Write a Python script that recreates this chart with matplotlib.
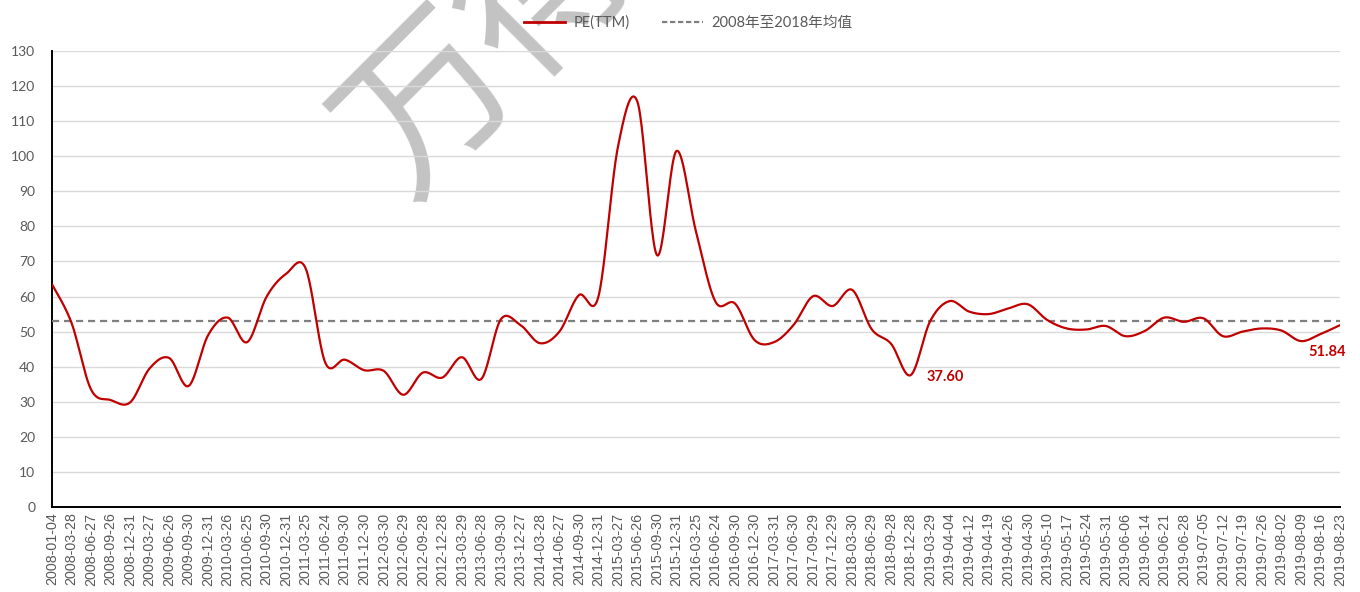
import numpy as np
import matplotlib
matplotlib.use("Agg")
import matplotlib.pyplot as plt
from matplotlib.lines import Line2D

plt.rcParams['font.family'] = ['Lato', 'Noto Sans CJK SC', 'DejaVu Sans']

dates = [
    "2008-01-04", "2008-03-28", "2008-06-27", "2008-09-26", "2008-12-31",
    "2009-03-27", "2009-06-26", "2009-09-30", "2009-12-31",
    "2010-03-26", "2010-06-25", "2010-09-30", "2010-12-31",
    "2011-03-25", "2011-06-24", "2011-09-30", "2011-12-30",
    "2012-03-30", "2012-06-29", "2012-09-28", "2012-12-28",
    "2013-03-29", "2013-06-28", "2013-09-30", "2013-12-27",
    "2014-03-28", "2014-06-27", "2014-09-30", "2014-12-31",
    "2015-03-27", "2015-06-26", "2015-09-30", "2015-12-31",
    "2016-03-25", "2016-06-24", "2016-09-30", "2016-12-30",
    "2017-03-31", "2017-06-30", "2017-09-29", "2017-12-29",
    "2018-03-30", "2018-06-29", "2018-09-28", "2018-12-28",
    "2019-03-29", "2019-04-04", "2019-04-12", "2019-04-19", "2019-04-26",
    "2019-04-30", "2019-05-10", "2019-05-17", "2019-05-24", "2019-05-31",
    "2019-06-06", "2019-06-14", "2019-06-21", "2019-06-28", "2019-07-05",
    "2019-07-12", "2019-07-19", "2019-07-26", "2019-08-02", "2019-08-09",
    "2019-08-16", "2019-08-23",
]

pe_ttm = [
    63.5, 52.5, 33.5, 30.5, 29.8,
    39.5, 42.5, 34.5, 49.0,
    54.0, 47.0, 60.0, 66.5,
    68.0, 41.2, 42.0, 39.0,
    38.8, 32.0, 38.3, 36.9,
    42.7, 36.5, 53.5, 51.9,
    46.7, 50.0, 60.4, 60.0,
    102.7, 115.5, 71.8, 101.5,
    78.5, 58.5, 58.0, 47.6,
    47.0, 51.9, 60.1, 57.3,
    61.9, 50.7, 46.5, 37.60,
    53.0, 58.7, 55.7, 55.0, 56.6,
    57.8, 53.3, 50.9, 50.6, 51.6,
    48.7, 50.2, 54.0, 52.8, 53.8,
    48.7, 50.0, 50.9, 50.3, 47.3,
    49.3, 51.84,
]

mean_2008_2018 = 53.1
yticks = list(range(0, 131, 10))
series_names = ["PE(TTM)", "2008年至2018年均值"]
labelled_points = [44, 66]


def smooth(xs, ys, n=24):
    xs = np.asarray(xs, float)
    ys = np.asarray(ys, float)
    P = np.column_stack([xs, ys])
    m = len(P)
    D = np.zeros_like(P)
    for i in range(m):
        a = P[i - 1] if i > 0 else P[i]
        b = P[i + 1] if i < m - 1 else P[i]
        D[i] = (b - a) / 6.0
    out = []
    t = np.linspace(0, 1, n)[:, None]
    for i in range(m - 1):
        p0 = P[i]
        p1 = P[i] + D[i]
        p2 = P[i + 1] - D[i + 1]
        p3 = P[i + 1]
        seg = ((1 - t) ** 3) * p0 + 3 * ((1 - t) ** 2) * t * p1 + 3 * (1 - t) * t ** 2 * p2 + t ** 3 * p3
        out.append(seg if i == 0 else seg[1:])
    out = np.vstack(out)
    return out[:, 0], out[:, 1]


fig = plt.figure(figsize=(13.6, 5.92), dpi=100)
ax = fig.add_axes([52 / 1360, 1 - 507 / 592, (1340 - 52) / 1360, (507 - 51) / 592])
ax.patch.set_alpha(0)

# watermark behind the axes (partly outside the picture, as in the reference)
wm_color = "#c3c3c3"
fig.text(430 / 1360, 1 - 105 / 592, "万", rotation=45, fontsize=122, color=wm_color,
         ha="center", va="center", zorder=-5, family=["Noto Sans CJK SC"],
         fontweight="medium", rotation_mode="anchor")
fig.text(548 / 1360, 1 - (-8) / 592, "得", rotation=45, fontsize=122, color=wm_color,
         ha="center", va="center", zorder=-5, family=["Noto Sans CJK SC"],
         fontweight="medium", rotation_mode="anchor")

x = np.arange(len(pe_ttm))
sx, sy = smooth(x, pe_ttm)

ax.plot(sx, sy, color="#c00000", lw=1.6, zorder=4, solid_capstyle="round")
ax.plot([x[0], x[-1]], [mean_2008_2018, mean_2008_2018], color="#7f7f7f", lw=1.6,
        dashes=(3.2, 2.2), zorder=3)

ax.set_xlim(0, len(pe_ttm) - 1)
ax.set_ylim(0, 130)
ax.set_yticks(yticks)
ax.set_yticklabels([str(v) for v in yticks], fontsize=10, color="#595959")
ax.set_xticks(x)
ax.set_xticklabels(dates, rotation=90, fontsize=10.3, color="#595959",
                   family=["Liberation Sans"])
ax.tick_params(axis="both", length=0)
ax.tick_params(axis="y", pad=12)
ax.tick_params(axis="x", pad=4)

ax.grid(axis="y", color="#d9d9d9", lw=1.0, zorder=0)
ax.set_axisbelow(True)
for s in ["top", "right"]:
    ax.spines[s].set_visible(False)
ax.spines["left"].set_color("#000000")
ax.spines["left"].set_linewidth(1.4)
ax.spines["bottom"].set_color("#000000")
ax.spines["bottom"].set_linewidth(1.4)

# data labels
offsets = {44: (25, -1.5), 66: (-9, -19.5)}
for i in labelled_points:
    ax.annotate(f"{pe_ttm[i]:.2f}", (x[i], pe_ttm[i]), xytext=offsets[i],
                textcoords="offset points", ha="center", va="center",
                fontsize=10.5, fontweight="bold", color="#c00000", zorder=6)

handles = [Line2D([0], [0], color="#c00000", lw=2.0),
           Line2D([0], [0], color="#7f7f7f", lw=1.6, dashes=(2.4, 1.2))]
leg = fig.legend(handles, series_names, loc="center", bbox_to_anchor=(0.506, 1 - 23 / 592),
                 ncol=2, frameon=False, fontsize=10.5, handlelength=2.8,
                 columnspacing=2.2, handletextpad=0.6)
for t in leg.get_texts():
    t.set_color("#595959")

fig.savefig("out.png", dpi=100)
